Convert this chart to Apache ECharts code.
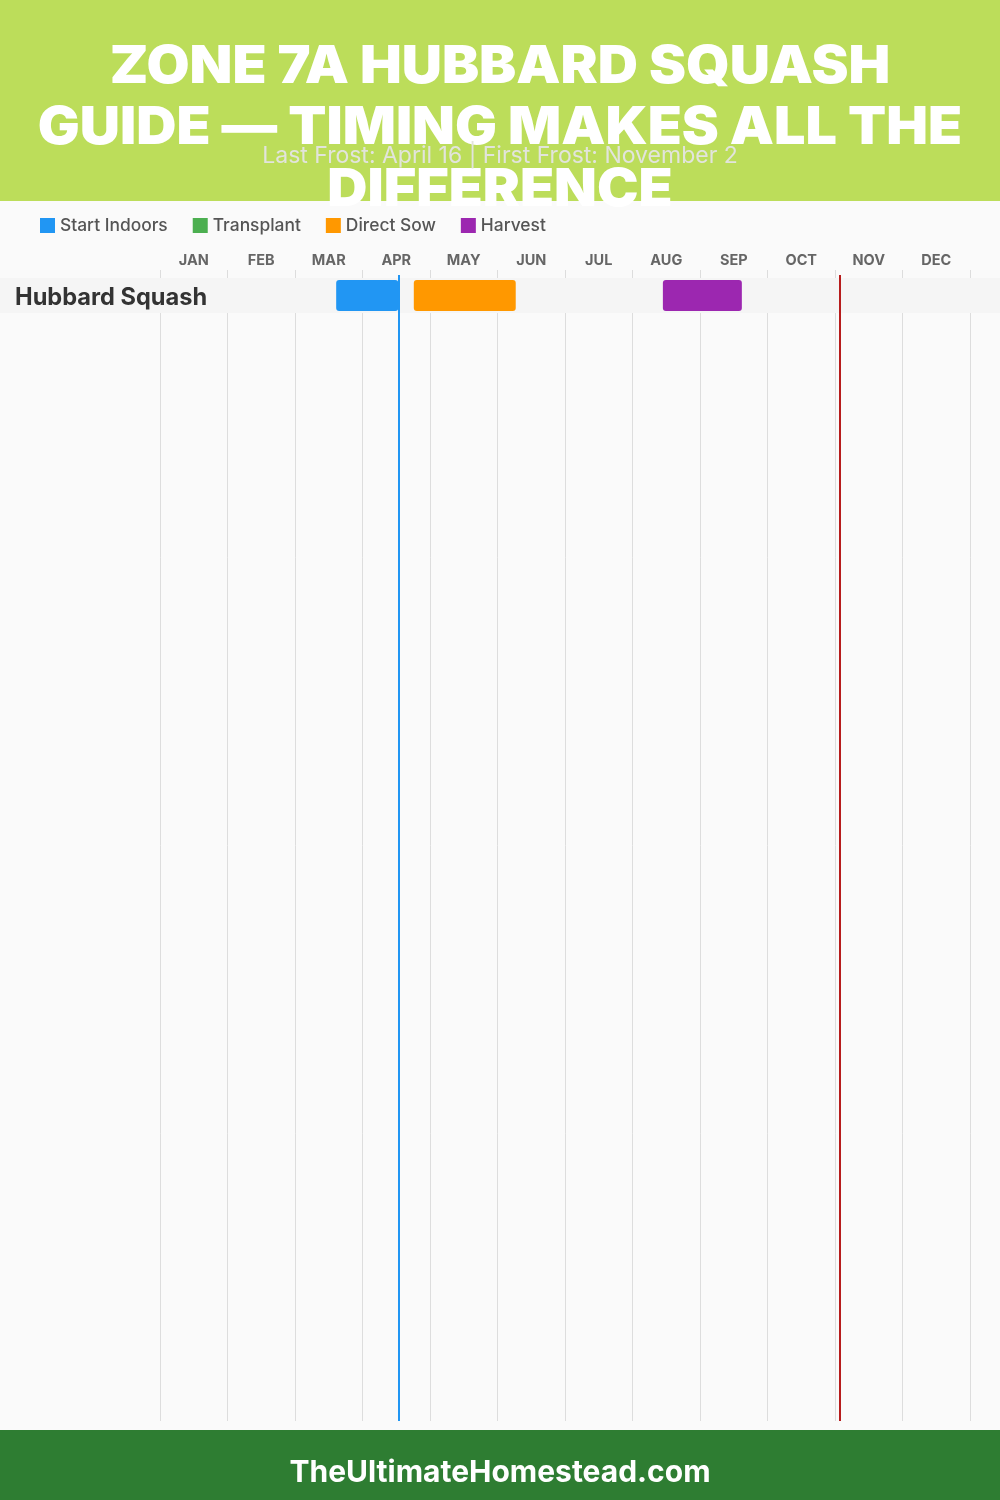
<!DOCTYPE html>
<html>
<head>
<meta charset="utf-8">
<style>
html, body { margin: 0; padding: 0; background: #fafafa; }
#main { width: 1000px; height: 1500px; }
</style>
<script src="https://cdn.jsdelivr.net/npm/echarts@6/dist/echarts.min.js"></script>
</head>
<body>
<div id="main"></div>
<script>
// values are in months from Jan 1 (3.5 = mid April)
var months = ['JAN', 'FEB', 'MAR', 'APR', 'MAY', 'JUN', 'JUL', 'AUG', 'SEP', 'OCT', 'NOV', 'DEC'];
var crops = ['Hubbard Squash'];
var startIndoors = [[2.61, 3.53, 0]];
var transplant = [];
var directSow = [[3.76, 5.27, 0]];
var harvest = [[7.45, 8.62, 0]];
var lastFrost = 3.53;
var firstFrost = 10.07;

var font = 'Inter, "Noto Sans", sans-serif';

function renderRange(params, api) {
    var start = api.coord([api.value(0), api.value(2)]);
    var end = api.coord([api.value(1), api.value(2)]);
    var height = 31;
    return {
        type: 'rect',
        shape: { x: start[0], y: start[1] - height / 2, width: end[0] - start[0], height: height, r: 3 },
        style: { fill: api.visual('color') }
    };
}

function rangeSeries(name, color, data) {
    return {
        name: name,
        type: 'custom',
        xAxisIndex: 1,
        yAxisIndex: 1,
        itemStyle: { color: color },
        encode: { x: [0, 1], y: 2 },
        renderItem: renderRange,
        z: 3,
        data: data
    };
}

function frostSeries(value, color) {
    return {
        type: 'line',
        xAxisIndex: 2,
        yAxisIndex: 2,
        data: [],
        z: 4,
        markLine: {
            silent: true,
            symbol: 'none',
            label: { show: false },
            lineStyle: { color: color, width: 2, type: 'solid' },
            data: [{ xAxis: value }]
        }
    };
}

var myChart = echarts.init(document.getElementById('main'), null, { renderer: 'canvas' });
var option = {
    backgroundColor: '#fafafa',
    animation: false,
    graphic: [
        { type: 'rect', z: -1, shape: { x: 0, y: 0, width: 1000, height: 201 }, style: { fill: '#bcdd5a' } },
        { type: 'rect', z: -1, shape: { x: 0, y: 1430, width: 1000, height: 70 }, style: { fill: '#2e7d32' } },
        {
            // the original face is wider than Inter, so stretch the heading a little
            type: 'text',
            z: 5,
            x: 500,
            y: 36.5,
            scaleX: 1.07,
            style: {
                text: 'ZONE 7A HUBBARD SQUASH\nGUIDE — TIMING MAKES ALL THE\nDIFFERENCE',
                fill: '#ffffff',
                font: '900 52px ' + font,
                lineHeight: 61.5,
                align: 'center',
                verticalAlign: 'top'
            }
        }
    ],
    title: [
        {
            text: 'Last Frost: April 16 | First Frost: November 2',
            left: 500,
            top: 145,
            padding: 0,
            textAlign: 'center',
            textStyle: { color: '#e2e4dc', fontFamily: font, fontWeight: 400, fontSize: 23 }
        },
        {
            text: 'TheUltimateHomestead.com',
            left: 500,
            top: 1458,
            padding: 0,
            textAlign: 'center',
            textStyle: { color: '#ffffff', fontFamily: font, fontWeight: 700, fontSize: 30 }
        }
    ],
    legend: {
        left: 40,
        top: 217,
        padding: 0,
        itemWidth: 15,
        itemHeight: 15,
        itemGap: 25,
        icon: 'rect',
        data: ['Start Indoors', 'Transplant', 'Direct Sow', 'Harvest'],
        textStyle: { color: '#555555', fontFamily: font, fontSize: 17.4, fontWeight: 500 }
    },
    grid: [
        { left: 160, right: 30, top: 270, bottom: 79 },
        { left: 160, right: 30, top: 278, height: 35 },
        { left: 160, right: 30, top: 275, bottom: 79 },
        { left: 0, right: 0, top: 278, height: 35, show: true, z: 1, backgroundColor: '#f5f5f5', borderWidth: 0 }
    ],
    xAxis: [
        {
            gridIndex: 0,
            type: 'category',
            position: 'top',
            data: months,
            z: 0,
            axisLine: { show: false },
            axisTick: { show: false },
            axisLabel: { margin: 2, color: '#666666', fontFamily: font, fontWeight: 700, fontSize: 14.5 },
            splitLine: { show: true, lineStyle: { color: '#dddddd', width: 1 } }
        },
        { gridIndex: 1, type: 'value', min: 0, max: 12, show: false },
        { gridIndex: 2, type: 'value', min: 0, max: 12, show: false },
        { gridIndex: 3, type: 'value', show: false }
    ],
    yAxis: [
        { gridIndex: 0, type: 'value', show: false },
        {
            gridIndex: 1,
            type: 'category',
            data: crops,
            z: 3,
            axisLine: { show: false },
            axisTick: { show: false },
            splitLine: { show: false },
            axisLabel: {
                align: 'left',
                margin: 145,
                formatter: '{crop|{value}}',
                rich: {
                    crop: { padding: [4, 0, 0, 0], color: '#333333', fontFamily: font, fontWeight: 700, fontSize: 23.6 }
                }
            }
        },
        { gridIndex: 2, type: 'value', min: 0, max: 1, show: false },
        { gridIndex: 3, type: 'value', show: false }
    ],
    series: [
        rangeSeries('Start Indoors', '#2196f3', startIndoors),
        rangeSeries('Transplant', '#4caf50', transplant),
        rangeSeries('Direct Sow', '#ff9800', directSow),
        rangeSeries('Harvest', '#9c27b0', harvest),
        frostSeries(lastFrost, '#2196f3'),
        frostSeries(firstFrost, '#b71c1c')
    ]
};
myChart.setOption(option);
</script>
</body>
</html>
